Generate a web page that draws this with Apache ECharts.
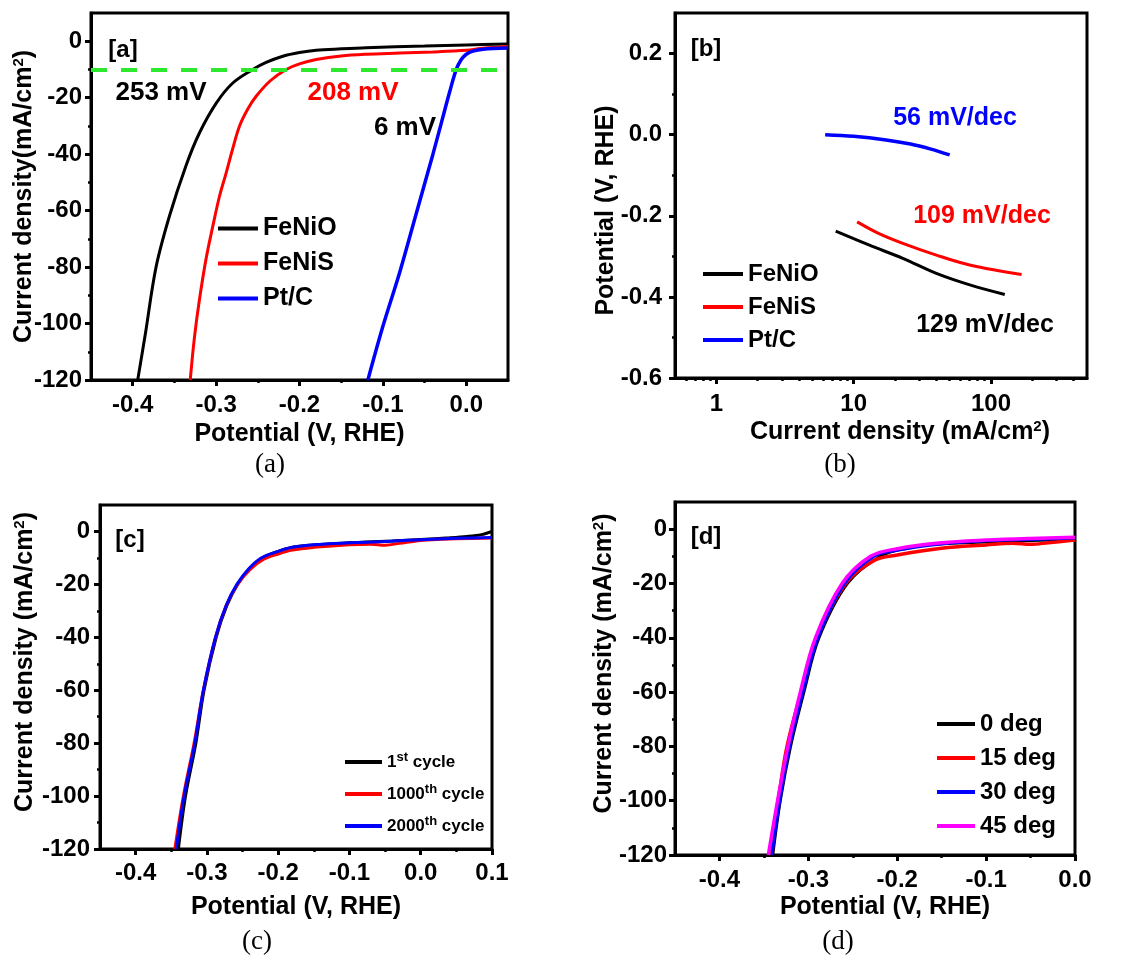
<!DOCTYPE html>
<html>
<head>
<meta charset="utf-8">
<title>HER polarization curves</title>
<script src="https://cdn.jsdelivr.net/npm/echarts@6/dist/echarts.min.js"></script>
<style>
  html, body { margin: 0; padding: 0; background: #fff; }
  #chart { width: 1142px; height: 955px; }
</style>
</head>
<body>
<div id="chart"></div>
<script>
// ========== data ==========
// [a] LSV curves: [potential (V vs RHE), current density (mA/cm2)]
const lsvFeNiO = [[-0.394, -120], [-0.385, -104], [-0.372, -80], [-0.356, -62], [-0.336, -44], [-0.32, -32.5],
    [-0.30, -22], [-0.28, -14.8], [-0.256, -10], [-0.24, -7.5], [-0.22, -5.3], [-0.20, -4], [-0.18, -3.2],
    [-0.15, -2.7], [-0.12, -2.3], [-0.05, -1.7], [0, -1.3], [0.05, -1.0]];
const lsvFeNiS = [[-0.331, -120], [-0.326, -105], [-0.32, -91.6], [-0.312, -77], [-0.304, -65.6], [-0.296, -55],
    [-0.288, -46.7], [-0.28, -38], [-0.272, -30.1], [-0.262, -24], [-0.252, -19.5], [-0.235, -14], [-0.216, -10],
    [-0.20, -8], [-0.18, -6.5], [-0.15, -5.2], [-0.12, -4.6], [-0.08, -4.2], [-0.04, -3.8], [0, -3.2],
    [0.02, -2.5], [0.05, -1.9]];
const lsvPtC = [[-0.118, -120], [-0.10, -101], [-0.08, -82], [-0.06, -61], [-0.04, -40], [-0.03, -29],
    [-0.02, -18], [-0.012, -10], [-0.006, -6.5], [0, -4.6], [0.008, -3.5], [0.02, -2.8], [0.05, -2.4]];

// [b] Tafel plots: [current density (mA/cm2), potential (V vs RHE)]
const tafelFeNiO = [[7.4, -0.238], [12.9, -0.272], [22.8, -0.305], [40, -0.342], [71, -0.371], [126, -0.394]];
const tafelFeNiS = [[10.6, -0.215], [15.3, -0.244], [22.8, -0.268], [40, -0.297], [71, -0.322], [167, -0.345]];
const tafelPtC = [[6.2, 0], [10, -0.004], [17.2, -0.013], [25.9, -0.023], [36, -0.035], [50, -0.05]];

// [c] cycling stability
const cycle1 = [[-0.34, -120], [-0.33, -100], [-0.3155, -80], [-0.304, -60], [-0.287, -40], [-0.272, -28],
    [-0.257, -20], [-0.24, -14], [-0.222, -10], [-0.2, -7.5], [-0.184, -6.2], [-0.16, -5.3], [-0.146, -5],
    [-0.1, -4.3], [-0.076, -4], [-0.04, -3.6], [0, -3], [0.04, -2.4], [0.065, -1.9], [0.085, -1.2], [0.1, 0]];
const cycle1000 = [[-0.345, -120], [-0.333, -100], [-0.318, -80], [-0.305, -60], [-0.288, -40], [-0.273, -28],
    [-0.257, -20], [-0.24, -14.5], [-0.222, -10.8], [-0.2, -8.5], [-0.18, -7], [-0.15, -6], [-0.1, -5],
    [-0.07, -4.8], [-0.05, -5.2], [-0.03, -4.5], [0, -3.4], [0.05, -2.8], [0.1, -2.5]];
const cycle2000 = [[-0.343, -120], [-0.332, -100], [-0.317, -80], [-0.305, -60], [-0.288, -40], [-0.273, -28],
    [-0.258, -20], [-0.241, -14], [-0.224, -10], [-0.2, -7.5], [-0.18, -6], [-0.15, -5], [-0.1, -4.3],
    [-0.05, -3.8], [0, -3.1], [0.05, -2.6], [0.1, -2.3]];

// [d] bending angle
const deg0 = [[-0.340, -120], [-0.3316, -100], [-0.320, -80], [-0.305, -60], [-0.288, -40], [-0.256, -20],
    [-0.219, -10], [-0.189, -7], [-0.155, -5.5], [-0.08, -4.5], [0, -3.7]];
const deg15 = [[-0.344, -120], [-0.334, -100], [-0.324, -80], [-0.308, -60], [-0.290, -40], [-0.258, -20],
    [-0.226, -11.5], [-0.2, -9.5], [-0.15, -7], [-0.1, -5.8], [-0.07, -5.2], [-0.05, -5.6], [-0.03, -5], [0, -4]];
const deg30 = [[-0.341, -120], [-0.332, -100], [-0.321, -80], [-0.306, -60], [-0.289, -40], [-0.259, -20],
    [-0.226, -10], [-0.2, -7.8], [-0.15, -5.5], [-0.1, -4.3], [-0.05, -3.8], [0, -3.3]];
const deg45 = [[-0.345, -120], [-0.3346, -100], [-0.323, -80], [-0.309, -60], [-0.292, -40], [-0.262, -20],
    [-0.23, -10], [-0.2, -7.2], [-0.15, -5], [-0.1, -4], [-0.05, -3.4], [0, -3]];

// tick values
const potTicks = [-0.4, -0.3, -0.2, -0.1, 0.0];
const potMinor = [-0.35, -0.25, -0.15, -0.05];
const potTicksC = [-0.4, -0.3, -0.2, -0.1, 0.0, 0.1];
const potMinorC = [-0.35, -0.25, -0.15, -0.05, 0.05];
const jTicks = [-120, -100, -80, -60, -40, -20, 0];
const jMinor = [-110, -90, -70, -50, -30, -10];
const logTicks = [1, 10, 100];
const logMinor = [0.6, 0.7, 0.8, 0.9, 2, 3, 4, 5, 6, 7, 8, 9, 20, 30, 40, 50, 60, 70, 80, 90, 200, 300, 400];
const etaTicks = [-0.6, -0.4, -0.2, 0.0, 0.2];
const etaMinor = [-0.5, -0.3, -0.1, 0.1];

// ========== style ==========
const FONT = '"Liberation Sans", Arial, sans-serif';
const BLACK = '#000000';
const RED = '#ff0000';
const BLUE = '#0000ff';
const MAGENTA = '#ff00ff';
const GREEN = '#2ee82e';
const TICK_FONT = 24;
const NAME_FONT = 25;

const chart = echarts.init(document.getElementById('chart'));

// major axis (labels + long ticks) and an overlaid minor axis (short ticks)
function makeAxes(dim, gridIndex, o) {
    const base = {
        gridIndex: gridIndex,
        type: o.type || 'value',
        min: o.min,
        max: o.max,
        position: dim === 'x' ? 'bottom' : 'left',
        splitLine: { show: false },
        silent: true
    };
    if (o.type === 'log') base.logBase = 10;
    const major = Object.assign({}, base, {
        name: o.name,
        nameLocation: 'middle',
        nameGap: o.nameGap,
        nameMoveOverlap: false,
        nameRotate: dim === 'y' ? 90 : 0,
        nameTextStyle: {
            fontFamily: FONT, fontWeight: 'bold', fontSize: NAME_FONT, color: BLACK,
            padding: o.namePad || 0, rich: { sup: { fontSize: 15, fontWeight: 'bold', fontFamily: FONT, padding: [0, 0, 11, 0] } }
        },
        axisLine: { show: true, onZero: false, lineStyle: { color: BLACK, width: 3 } },
        axisTick: { show: true, inside: false, length: 6, customValues: o.ticks, lineStyle: { color: BLACK, width: 3 } },
        axisLabel: {
            customValues: o.ticks, margin: o.margin, formatter: o.fmt,
            fontFamily: FONT, fontWeight: 'bold', fontSize: TICK_FONT, color: BLACK
        }
    });
    const minor = Object.assign({}, base, {
        axisLine: { show: false, onZero: false },
        axisTick: { show: true, inside: false, length: 3, customValues: o.minor, lineStyle: { color: BLACK, width: 2.5 } },
        axisLabel: { show: false }
    });
    return [major, minor];
}

function line(name, data, color, axisIndex, width) {
    return {
        name: name,
        type: 'line',
        data: data,
        xAxisIndex: axisIndex,
        yAxisIndex: axisIndex,
        symbol: 'none',
        showSymbol: false,
        smooth: 0.35,
        lineStyle: { color: color, width: width || 3 },
        itemStyle: { color: color },
        animation: false
    };
}

function legendBox(left, top, names, gap, fontSize, extra) {
    return Object.assign({
        orient: 'vertical',
        left: left,
        top: top,
        data: names,
        icon: 'rect',
        itemWidth: 40,
        itemHeight: 4,
        itemGap: gap,
        padding: 0,
        selectedMode: false,
        textStyle: { fontFamily: FONT, fontWeight: 'bold', fontSize: fontSize, color: BLACK, lineHeight: fontSize + 6 }
    }, extra || {});
}

function label(text, x, y, color, size) {
    return {
        type: 'text', x: x, y: y, silent: true,
        style: { text: text, fill: color, font: 'bold ' + size + 'px ' + FONT, align: 'center', verticalAlign: 'middle' }
    };
}

function caption(text, x, y) {
    return {
        type: 'text', x: x, y: y, silent: true,
        style: { text: text, fill: BLACK, font: '27px "Liberation Serif", serif', align: 'center', verticalAlign: 'middle' }
    };
}

const fixed1 = v => v.toFixed(1);

// ========== axes ==========
const xA = makeAxes('x', 0, { min: -0.45, max: 0.05, ticks: potTicks, minor: potMinor, fmt: fixed1, margin: 13, name: 'Potential (V, RHE)', nameGap: 42 });
const yA = makeAxes('y', 0, { min: -120, max: 10, ticks: jTicks, minor: jMinor, margin: 9, name: 'Current density(mA/cm{sup|2})', nameGap: 54 });
const xB = makeAxes('x', 1, { type: 'log', min: 0.5, max: 500, ticks: logTicks, minor: logMinor, margin: 14, name: 'Current density (mA/cm{sup|2})', nameGap: 41, namePad: [0, 0, 0, 38] });
const yB = makeAxes('y', 1, { min: -0.6, max: 0.3, ticks: etaTicks, minor: etaMinor, fmt: fixed1, margin: 13, name: 'Potential (V, RHE)', nameGap: 56, namePad: [0, 30, 0, 0] });
const xC = makeAxes('x', 2, { min: -0.45, max: 0.1, ticks: potTicksC, minor: potMinorC, fmt: fixed1, margin: 12, name: 'Potential (V, RHE)', nameGap: 46 });
const yC = makeAxes('y', 2, { min: -120, max: 10, ticks: jTicks, minor: jMinor, margin: 10, name: 'Current density (mA/cm{sup|2})', nameGap: 62, namePad: [0, 0, 0, 30] });
const xD = makeAxes('x', 3, { min: -0.45, max: 0, ticks: potTicks, minor: potMinor, fmt: fixed1, margin: 13, name: 'Potential (V, RHE)', nameGap: 40, namePad: [0, 0, 0, 20] });
const yD = makeAxes('y', 3, { min: -120, max: 10, ticks: jTicks, minor: jMinor, margin: 8, name: 'Current density (mA/cm{sup|2})', nameGap: 58, namePad: [0, 0, 0, 30] });

const gridStyle = { show: true, borderColor: BLACK, borderWidth: 3, backgroundColor: 'transparent' };

const feNiOa = line('FeNiO', lsvFeNiO, BLACK, 0);
feNiOa.markLine = {
    silent: true,
    symbol: ['none', 'none'],
    label: { show: false },
    lineStyle: { color: GREEN, width: 4, type: [16, 14] },
    data: [{ yAxis: -10 }]
};

const option = {
    backgroundColor: '#ffffff',
    animation: false,
    grid: [
        Object.assign({ left: 91, top: 13, width: 417, height: 367 }, gridStyle),
        Object.assign({ left: 675, top: 13, width: 412, height: 365 }, gridStyle),
        Object.assign({ left: 100, top: 505, width: 392, height: 344 }, gridStyle),
        Object.assign({ left: 675, top: 502, width: 400, height: 353 }, gridStyle)
    ],
    xAxis: [xA[0], xA[1], xB[0], xB[1], xC[0], xC[1], xD[0], xD[1]],
    yAxis: [yA[0], yA[1], yB[0], yB[1], yC[0], yC[1], yD[0], yD[1]],
    legend: [
        legendBox(218, 213, ['FeNiO', 'FeNiS', 'Pt/C'], 4, 25),
        legendBox(703, 259, ['FeNiO', 'FeNiS', 'Pt/C'], 3, 24),
        legendBox(345, 749, ['1st cycle', '1000th cycle', '2000th cycle'], 6, 16, {
            itemWidth: 37,
            formatter: name => name.replace(/^(\d+)(st|th) (cycle)$/, '$1{sup|$2} $3'),
            textStyle: {
                fontFamily: FONT, fontWeight: 'bold', fontSize: 17, color: BLACK, lineHeight: 26,
                rich: { sup: { fontFamily: FONT, fontWeight: 'bold', fontSize: 13, color: BLACK, padding: [0, 0, 9, 0] } }
            }
        }),
        legendBox(937, 709, ['0 deg', '15 deg', '30 deg', '45 deg'], 4, 24, { itemWidth: 38 })
    ],
    series: [
        feNiOa,
        line('FeNiS', lsvFeNiS, RED, 0),
        line('Pt/C', lsvPtC, BLUE, 0, 3.5),
        line('FeNiO', tafelFeNiO, BLACK, 2),
        line('FeNiS', tafelFeNiS, RED, 2),
        line('Pt/C', tafelPtC, BLUE, 2, 3.5),
        line('1st cycle', cycle1, BLACK, 4),
        line('1000th cycle', cycle1000, RED, 4),
        line('2000th cycle', cycle2000, BLUE, 4),
        line('0 deg', deg0, BLACK, 6),
        line('15 deg', deg15, RED, 6, 3.5),
        line('30 deg', deg30, BLUE, 6),
        line('45 deg', deg45, MAGENTA, 6, 3.5)
    ],
    graphic: [
        label('[a]', 123, 50, BLACK, 24),
        label('253 mV', 161, 93, BLACK, 26),
        label('208 mV', 353, 93, RED, 26),
        label('6 mV', 405, 128, BLACK, 26),
        label('[b]', 706, 49, BLACK, 24),
        label('56 mV/dec', 955, 118, BLUE, 25),
        label('109 mV/dec', 982, 216, RED, 25),
        label('129 mV/dec', 985, 325, BLACK, 25),
        label('[c]', 130, 540, BLACK, 24),
        label('[d]', 706, 537, BLACK, 24),
        caption('(a)', 270, 465),
        caption('(b)', 840, 465),
        caption('(c)', 257, 942),
        caption('(d)', 838, 942)
    ]
};

chart.setOption(option);
</script>
</body>
</html>
